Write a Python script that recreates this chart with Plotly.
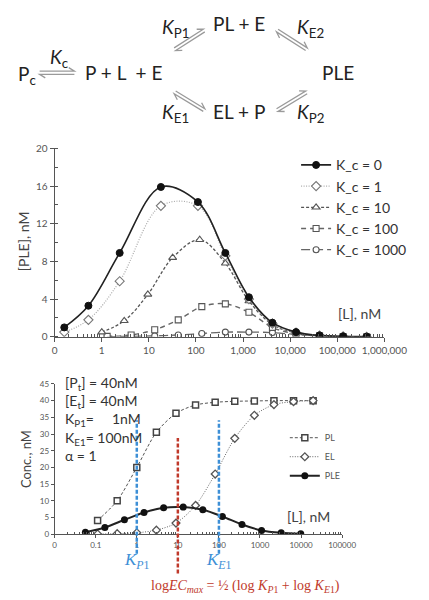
import math
import plotly.graph_objects as go

W, H = 429, 600

# ---------------- data: top chart ([PLE] vs [L]) ----------------
kc_names = ["K_c = 0", "K_c = 1", "K_c = 10", "K_c = 100", "K_c = 1000"]
x_kc0 = [0.16, 0.52, 2.4, 18, 110, 420, 1330, 4200, 13300, 42000, 133000, 420000]
y_kc0 = [1.0, 3.3, 8.9, 15.9, 14.3, 8.9, 4.2, 1.5, 0.5, 0.15, 0.05, 0.02]
x_kc1 = [0.16, 0.52, 2.4, 18, 110, 420, 1330, 4200, 13300, 42000, 133000, 420000]
y_kc1 = [0.5, 1.8, 5.9, 13.9, 13.9, 8.6, 4.0, 1.4, 0.45, 0.14, 0.04, 0.01]
x_kc10 = [1.0, 3.0, 9.5, 32, 120, 420, 1330, 4200, 13300, 42000, 133000, 420000]
y_kc10 = [0.5, 1.7, 4.5, 8.4, 10.3, 7.8, 3.8, 1.3, 0.4, 0.12, 0.04, 0.01]
x_kc100 = [1.3, 4.2, 13.3, 42, 133, 420, 1330, 4200, 13300, 42000, 133000, 420000]
y_kc100 = [0.05, 0.2, 0.75, 1.8, 3.2, 3.5, 2.6, 1.0, 0.3, 0.1, 0.03, 0.01]
x_kc1000 = [1.3, 4.2, 13.3, 42, 133, 420, 1330, 4200, 13300, 42000, 133000, 420000]
y_kc1000 = [0.02, 0.05, 0.1, 0.2, 0.35, 0.5, 0.5, 0.45, 0.25, 0.1, 0.03, 0.01]

top_xticks = [0.1, 1, 10, 100, 1000, 10000, 100000, 1000000]
top_xtext = ["0", "1", "10", "100", "1,000", "10,000", "100,000", "1,000,000"]

# ---------------- data: bottom chart (Conc. vs [L]) ----------------
x_pl = [0.111, 0.333, 1, 3, 9, 27, 81, 243, 729, 2187, 6561, 19683]
y_pl = [4.1, 10, 20, 30.5, 36.2, 38.7, 39.5, 39.8, 39.9, 40, 40, 40]
x_el = [0.111, 0.333, 1, 3, 9, 27, 81, 243, 729, 2187, 6561, 19683]
y_el = [0.05, 0.15, 0.4, 1.2, 3.3, 8.6, 18, 28.7, 35.6, 38.8, 39.7, 40]
x_ple = [0.056, 0.167, 0.5, 1.5, 4.5, 13.5, 40.5, 121.5, 364.5, 1093.5, 3280.5, 9841.5]
y_ple = [0.6, 2.0, 4.3, 6.5, 7.9, 8.1, 7.3, 5.3, 2.9, 1.1, 0.4, 0.1]

bot_xticks = [0.01, 0.1, 1, 10, 100, 1000, 10000, 100000]
bot_xtext = ["0", "0.1", "1", "10", "100", "1000", "10000", "100000"]

K_P1 = 1
K_E1 = 100
EC_max = 10

FONT = "Lato"

fig = go.Figure()

# ---- top traces (drawn back to front, legend order via legendrank) ----
top_series = [
    (kc_names[4], x_kc1000, y_kc1000, dict(symbol="circle", size=6, color="white", line=dict(color="#555", width=1.1)),
     dict(color="#666", width=1.3, dash="9px,4px"), 5),
    (kc_names[3], x_kc100, y_kc100, dict(symbol="square", size=6, color="white", line=dict(color="#555", width=1.1)),
     dict(color="#666", width=1.4, dash="5px,4px"), 4),
    (kc_names[2], x_kc10, y_kc10, dict(symbol="triangle-up", size=7, color="white", line=dict(color="#555", width=1.1)),
     dict(color="#555", width=1.3, dash="3px,2px"), 3),
    (kc_names[1], x_kc1, y_kc1, dict(symbol="diamond", size=7, color="white", line=dict(color="#777", width=1.1)),
     dict(color="#aaa", width=1.2, dash="1px,1.5px"), 2),
    (kc_names[0], x_kc0, y_kc0, dict(symbol="circle", size=7, color="#111", line=dict(color="#111", width=1)),
     dict(color="#222", width=1.6), 1),
]
for name, xs, ys, mk, ln, rank in top_series:
    fig.add_trace(go.Scatter(
        x=xs, y=ys, name=name, mode="lines+markers", marker=mk,
        line=dict(shape="spline", smoothing=1.0, **ln),
        xaxis="x", yaxis="y", legend="legend", legendrank=rank,
    ))

# ---- bottom traces ----
bot_series = [
    ("PL", x_pl, y_pl, dict(symbol="square", size=6, color="white", line=dict(color="#444", width=1.5)),
     dict(color="#555", width=1, dash="3px,2px"), 1),
    ("EL", x_el, y_el, dict(symbol="diamond", size=6, color="white", line=dict(color="#555", width=1.3)),
     dict(color="#666", width=1, dash="1px,1.5px"), 2),
    ("PLE", x_ple, y_ple, dict(symbol="circle", size=7, color="#111"),
     dict(color="#222", width=2), 3),
]
for name, xs, ys, mk, ln, rank in bot_series:
    fig.add_trace(go.Scatter(
        x=xs, y=ys, name=name, mode="lines+markers", marker=mk,
        line=dict(shape="spline", smoothing=0.8, **ln),
        xaxis="x2", yaxis="y2", legend="legend2", legendrank=rank,
    ))


def P(x, y):
    return x / W, 1 - y / H


def ann(text, x, y, size, color="#222", xanchor="left", yanchor="middle", family=FONT, angle=0, align="left"):
    px, py = P(x, y)
    return dict(text=text, x=px, y=py, xref="paper", yref="paper", showarrow=False,
                xanchor=xanchor, yanchor=yanchor, textangle=angle, align=align,
                font=dict(size=size, color=color, family=family))


def eq_arrow(x0, y0, x1, y1, gap=1.6, head=6):
    dx, dy = x1 - x0, y1 - y0
    L = math.hypot(dx, dy)
    ux, uy = dx / L, dy / L
    nx, ny = uy, -ux
    a = (x0 + nx * gap, y0 + ny * gap)
    b = (x1 + nx * gap, y1 + ny * gap)
    c = (b[0] - ux * head + nx * head * 0.6, b[1] - uy * head + ny * head * 0.6)
    d = (x1 - nx * gap, y1 - ny * gap)
    e = (x0 - nx * gap, y0 - ny * gap)
    f = (e[0] + ux * head - nx * head * 0.6, e[1] + uy * head - ny * head * 0.6)

    def fmt(p):
        q = P(*p)
        return f"{q[0]:.5f},{q[1]:.5f}"
    path = f"M {fmt(a)} L {fmt(b)} L {fmt(c)} M {fmt(d)} L {fmt(e)} L {fmt(f)}"
    return dict(type="path", path=path, xref="paper", yref="paper",
                line=dict(color="#9a9a9a", width=1.3))


shapes = [
    eq_arrow(39, 68, 76, 68),
    eq_arrow(183, 44, 214, 25),
    eq_arrow(292, 25, 323, 44),
    eq_arrow(183, 88, 214, 106),
    eq_arrow(292, 106, 323, 88),
]

BLUE = "#3d8fd6"
RED = "#c0392b"
shapes += [
    dict(type="line", xref="x2", yref="paper", x0=K_P1, x1=K_P1, y0=P(0, 558)[1], y1=P(0, 422)[1],
         line=dict(color=BLUE, width=2.5, dash="4px,2px")),
    dict(type="line", xref="x2", yref="paper", x0=K_E1, x1=K_E1, y0=P(0, 558)[1], y1=P(0, 422)[1],
         line=dict(color=BLUE, width=2.5, dash="4px,2px")),
    dict(type="line", xref="x2", yref="paper", x0=EC_max, x1=EC_max, y0=P(0, 578)[1], y1=P(0, 440)[1],
         line=dict(color=RED, width=2.5, dash="4px,2px")),
]

SERIF = "Liberation Serif"
annotations = [
    # reaction scheme
    ann("P<sub>c</sub>", 14, 70, 19),
    ann("<i>K</i><sub>c</sub>", 48, 53, 19),
    ann("P + L  + E", 85, 68, 19),
    ann("<i>K</i><sub>P1</sub>", 167, 22, 19),
    ann("PL + E", 221, 18, 19),
    ann("<i>K</i><sub>E2</sub>", 311, 22, 19),
    ann("PLE", 337, 68, 19),
    ann("<i>K</i><sub>E1</sub>", 167, 109, 19),
    ann("EL + P", 221, 107, 19),
    ann("<i>K</i><sub>P2</sub>", 311, 109, 19),
    # axis titles
    ann("[PLE], nM", 22, 240, 14, color="#444", xanchor="center", angle=-90),
    ann("[L], nM", 380, 313, 14, color="#444", xanchor="center"),
    ann("Conc., nM", 24, 462, 13, color="#444", xanchor="center", angle=-90),
    ann("[L], nM", 325, 520, 14, color="#444", xanchor="center"),
    # parameters
    ann("[P<sub>t</sub>] = 40nM<br>[E<sub>t</sub>] = 40nM<br>K<sub>P1</sub>=\u00a0\u00a0\u00a0\u00a0\u00a01nM<br>"
        "K<sub>E1</sub>= 100nM<br>\u03b1 = 1", 64, 421, 14, color="#333", yanchor="middle"),
    # K labels and formula
    dict(text="<i>K<sub>P</sub></i><sub>1</sub>", x=math.log10(K_P1), y=P(0, 565)[1], xref="x2", yref="paper",
         showarrow=False, xanchor="center", yanchor="middle",
         font=dict(size=17, color=BLUE, family=SERIF)),
    dict(text="<i>K<sub>E</sub></i><sub>1</sub>", x=math.log10(K_E1), y=P(0, 565)[1], xref="x2", yref="paper",
         showarrow=False, xanchor="center", yanchor="middle",
         font=dict(size=17, color=BLUE, family=SERIF)),
    ann("log<i>EC<sub>max</sub></i> = \u00bd (log <i>K<sub>P</sub></i><sub>1</sub> + log <i>K<sub>E</sub></i><sub>1</sub>)",
        258, 591, 14, color=RED, xanchor="center", family=SERIF),
]

minor_top = [k * 10 ** e for e in range(-1, 6) for k in range(2, 10)]
minor_bot = [k * 10 ** e for e in range(-2, 5) for k in range(2, 10)]
AX = "#555"

fig.update_layout(
    width=W, height=H, margin=dict(l=0, r=0, t=0, b=0),
    paper_bgcolor="white", plot_bgcolor="white",
    font=dict(family=FONT, color="#444"),
    xaxis=dict(domain=[55 / W, 406 / W], anchor="y", type="log", range=[-1, 6],
               tickmode="array", tickvals=top_xticks, ticktext=top_xtext,
               ticks="outside", ticklen=4, tickcolor=AX, showline=True, linecolor=AX, linewidth=1,
               showgrid=False, zeroline=False, tickfont=dict(size=10, color="#555"),
               minor=dict(tickvals=minor_top, ticks="inside", ticklen=3, tickcolor=AX, showgrid=False)),
    yaxis=dict(domain=[1 - 337 / H, 1 - 145 / H], anchor="x", range=[0, 20], dtick=4,
               ticks="outside", ticklen=4, tickcolor=AX, showline=True, linecolor=AX, linewidth=1,
               showgrid=False, zeroline=False, tickfont=dict(size=10, color="#555"),
               minor=dict(dtick=2, ticks="inside", ticklen=3, tickcolor=AX, showgrid=False)),
    xaxis2=dict(domain=[55 / W, 361 / W], anchor="y2", type="log", range=[-2, 5],
                tickmode="array", tickvals=bot_xticks, ticktext=bot_xtext,
                ticks="outside", ticklen=3, tickcolor=AX, showline=True, linecolor=AX, linewidth=1,
                showgrid=False, zeroline=False, tickfont=dict(size=8, color="#555"),
                minor=dict(tickvals=minor_bot, ticks="inside", ticklen=2, tickcolor=AX, showgrid=False)),
    yaxis2=dict(domain=[1 - 538 / H, 1 - 385 / H], anchor="x2", range=[0, 45], dtick=5,
                ticks="outside", ticklen=3, tickcolor=AX, showline=True, linecolor=AX, linewidth=1,
                showgrid=False, zeroline=False, tickfont=dict(size=8, color="#555")),
    legend=dict(x=312 / W, y=1 - 146 / H, xanchor="left", yanchor="top", bgcolor="rgba(0,0,0,0)",
                font=dict(size=14, color="#333", family=FONT), itemwidth=30, tracegroupgap=0),
    legend2=dict(x=300 / W, y=1 - 425 / H, xanchor="left", yanchor="top", bgcolor="rgba(0,0,0,0)",
                 font=dict(size=9, color="#555", family=FONT), itemwidth=30, tracegroupgap=0),
    shapes=shapes,
    annotations=annotations,
    showlegend=True,
)

fig.write_html("out.html", config={"displayModeBar": False},
               post_script="document.body.style.margin='0px';")
